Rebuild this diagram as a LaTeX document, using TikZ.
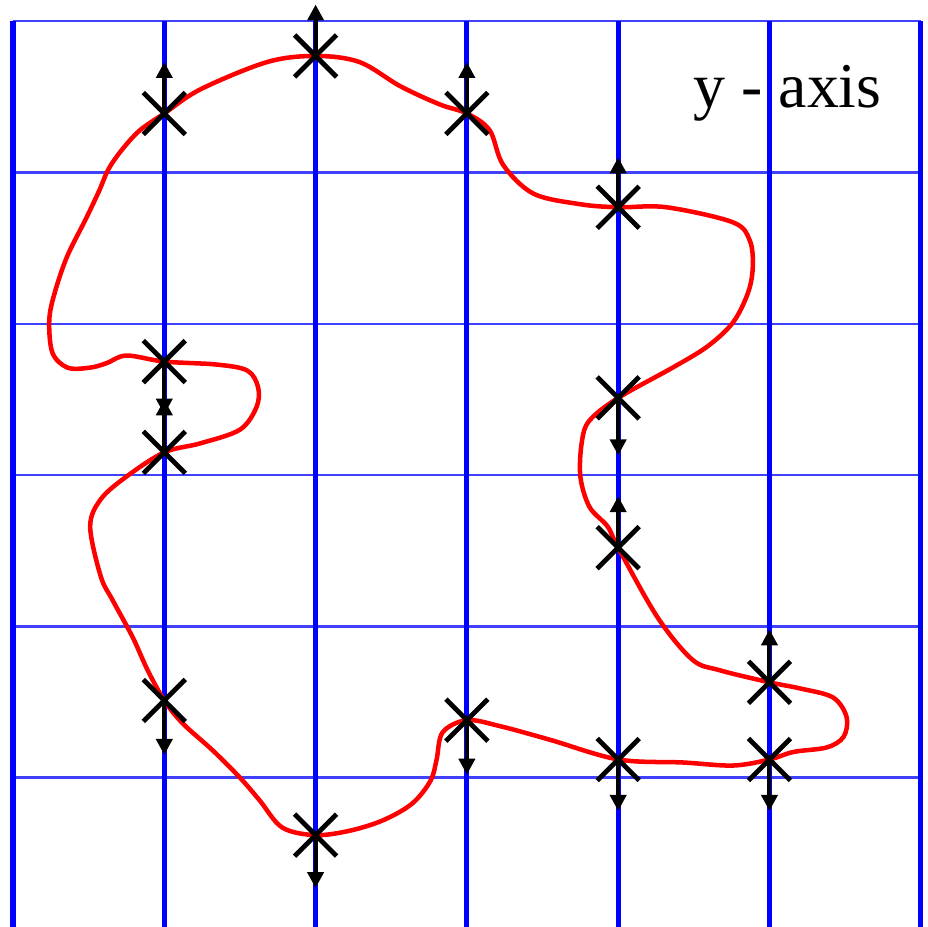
\documentclass[tikz,border=0pt]{standalone}
\usepackage{fontspec}
\setmainfont{Liberation Serif}
\usetikzlibrary{arrows.meta,shapes.misc}

\tikzset{
  vline/.style={blue, line width=1.9pt},
  hline/.style={blue!75, line width=0.9pt},
  contour/.style={red, line width=1.7pt},
  cross/.style={draw, cross out, line width=1.8pt, minimum size=14pt, inner sep=0pt},
  vec/.style={line width=1.5pt, -{Triangle[length=6pt,width=6pt]}}
}

\begin{document}
\begin{tikzpicture}[x=2cm,y=2cm]
\useasboundingbox (-0.086,0.013) rectangle (6.048,6.14);
% grid
\foreach \k in {1,...,6} \draw[hline] (0,\k) -- (6,\k);
\foreach \i in {0,...,6} \draw[vline] (\i,0) -- (\i,6);
% the contour
\draw[contour] plot[smooth cycle, tension=0.55] coordinates {
  (2.00,5.77) (2.29,5.73) (2.56,5.57) (2.82,5.45) (3.00,5.39) (3.15,5.28)
  (3.24,5.05) (3.44,4.86) (3.75,4.79) (4.00,4.77) (4.32,4.77) (4.76,4.67)
  (4.87,4.55) (4.89,4.38) (4.86,4.21) (4.76,4.01) (4.59,3.85) (4.36,3.71)
  (4.00,3.51) (3.81,3.36) (3.76,3.22) (3.75,2.99) (3.81,2.79) (3.93,2.66)
  (4.00,2.52) (4.26,2.06) (4.49,1.78) (4.67,1.71) (5.00,1.63) (5.20,1.59)
  (5.42,1.53) (5.51,1.40) (5.49,1.27) (5.38,1.20) (5.16,1.17) (5.00,1.12)
  (4.76,1.08) (4.43,1.10) (4.00,1.12) (3.55,1.25) (3.22,1.34) (3.00,1.38)
  (2.84,1.30) (2.80,1.12) (2.76,0.98) (2.64,0.83) (2.45,0.72) (2.23,0.65)
  (2.00,0.62) (1.78,0.67) (1.63,0.85) (1.50,1.00) (1.32,1.18) (1.12,1.36)
  (1.00,1.51) (0.89,1.71) (0.79,1.93) (0.66,2.17) (0.58,2.33) (0.51,2.66)
  (0.58,2.84) (0.75,2.99) (1.00,3.15) (1.24,3.21) (1.50,3.30) (1.61,3.45)
  (1.62,3.58) (1.55,3.69) (1.35,3.73) (1.00,3.75) (0.75,3.79) (0.62,3.74)
  (0.51,3.71) (0.36,3.71) (0.26,3.81) (0.24,4.03) (0.28,4.22) (0.36,4.45)
  (0.48,4.69) (0.57,4.88) (0.63,5.02) (0.72,5.15) (0.84,5.28) (1.00,5.39)
  (1.24,5.55) (1.68,5.73)};
% crossings with their direction arrows
\foreach \n/\x/\y/\t in {m1/1/5.39/5.73, m2/2/5.77/6.11, m3/3/5.39/5.73,
    m4/4/4.77/5.10, m5/4/3.51/3.13, m6/4/2.52/2.86, m7/5/1.63/1.98,
    m8/5/1.12/0.78, m9/4/1.12/0.78, m10/3/1.38/1.02, m11/2/0.62/0.27,
    m12/1/1.51/1.15, m13/1/3.15/3.50, m14/1/3.75/3.40} {
  \node[cross] (\n) at (\x,\y) {};
  \coordinate (\n tip) at (\x,\t);
  \draw[vec] (\n.center) -- (\n tip);
}
\node[anchor=base, font=\fontsize{24}{28}\selectfont] (lbl) at (5.12,5.43) {y - axis};
\end{tikzpicture}
\end{document}
